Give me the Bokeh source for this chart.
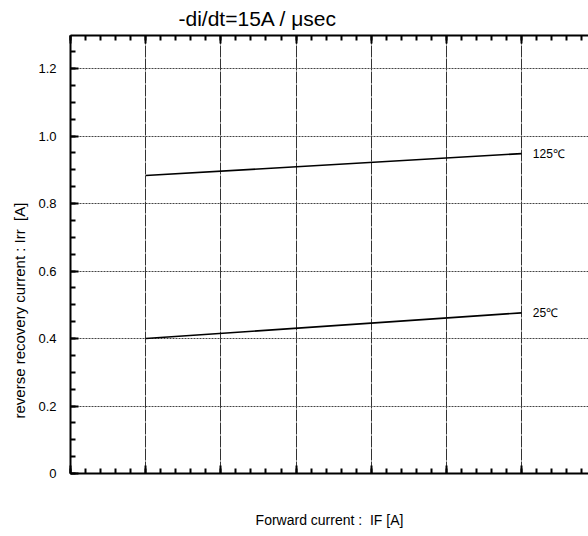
import numpy as np
from bokeh.plotting import figure
from bokeh.models import FixedTicker, LinearAxis, Label, PrintfTickFormatter, Range1d, Title
from bokeh.embed import file_html
from bokeh.resources import INLINE

# ---- data ----
x_pts = [1, 6]
irr_125 = [0.883, 0.948]
irr_25 = [0.400, 0.476]
series_names = ["125℃", "25℃"]
y_ticks = [0, 0.2, 0.4, 0.6, 0.8, 1.0, 1.2]
x_ticks = [0, 1, 2, 3, 4, 5, 6]

FONT = "Liberation Sans"
NB = "\u00a0"

p = figure(width=588, height=536,
           x_range=Range1d(0, 6.89), y_range=Range1d(0, 1.298),
           output_backend="svg", toolbar_location=None,
           min_border_left=70, min_border_right=0,
           min_border_top=35, min_border_bottom=63)
p.outline_line_color = None
p.background_fill_color = "white"
p.border_fill_color = "white"

p.title.text = "-di/dt=15A / μsec"
p.title.text_font = FONT
p.title.text_font_size = "21px"
p.title.text_font_style = "normal"
p.title.text_color = "black"
p.title.align = "left"
p.title.offset = 108
p.title.standoff = 8
p.title.vertical_align = "top"

yt = FixedTicker(ticks=y_ticks, minor_ticks=list(np.round(np.arange(0, 1.31, 0.05), 2)))
xt = FixedTicker(ticks=x_ticks, minor_ticks=list(np.round(np.arange(0, 7.01, 0.2), 2)))

def style_axis(ax):
    ax.axis_line_width = 2
    ax.axis_line_color = "black"
    ax.major_tick_in = 8
    ax.major_tick_out = 0
    ax.minor_tick_in = 5
    ax.minor_tick_out = 0
    ax.major_tick_line_width = 2
    ax.minor_tick_line_width = 2
    ax.major_tick_line_color = "black"
    ax.minor_tick_line_color = "black"

# y axis
yax = p.yaxis[0]
yax.ticker = yt
style_axis(yax)
yax.formatter = PrintfTickFormatter(format="%.1f")
yax.major_label_overrides = {0: "0"}
yax.major_label_text_font = FONT
yax.major_label_text_font_size = "13px"
yax.major_label_text_color = "black"
yax.major_label_standoff = 14

# x axis (bottom) - no tick labels, only the axis title
xax = p.xaxis[0]
xax.ticker = xt
style_axis(xax)
xax.major_label_text_font_size = "0px"
xax.major_label_text_color = None
xax.major_label_standoff = 0
xax.axis_label = "Forward current" + NB + ":" + NB + NB + "IF" + NB + "[A]"
xax.axis_label_text_font = FONT
xax.axis_label_text_font_size = "14px"
xax.axis_label_text_font_style = "normal"
xax.axis_label_text_color = "black"
xax.axis_label_standoff = 38

# top axis
top = LinearAxis(ticker=xt)
style_axis(top)
top.major_label_text_font_size = "0px"
top.major_label_text_color = None
top.major_label_standoff = 0
p.add_layout(top, "above")

# grids
p.ygrid.ticker = yt
p.xgrid.ticker = xt
p.ygrid.grid_line_color = "#444444"
p.ygrid.grid_line_dash = "2 1"
p.ygrid.grid_line_width = 1
p.xgrid.grid_line_color = "#333333"
p.xgrid.grid_line_dash = "12 1"
p.xgrid.grid_line_width = 1

# curves
p.line(x_pts, irr_125, line_color="black", line_width=1.6)
p.line(x_pts, irr_25, line_color="black", line_width=1.6)

for name, ys in zip(series_names, [irr_125, irr_25]):
    p.add_layout(Label(x=x_pts[-1] + 0.15, y=ys[-1], text=name,
                       text_font=FONT, text_font_size="12px", text_color="black",
                       text_baseline="middle", text_align="left"))

# y axis title (placed as a side title so it can sit lower, as in the reference)
ylab = Title(text="reverse recovery current" + NB + ":" + NB + "Irr" + NB + NB + "[A]",
             align="left", offset=55, standoff=15, text_font=FONT, text_font_size="15px",
             text_font_style="normal", text_color="black")
p.add_layout(ylab, "left")

open("out.html", "w").write(file_html(p, INLINE))
